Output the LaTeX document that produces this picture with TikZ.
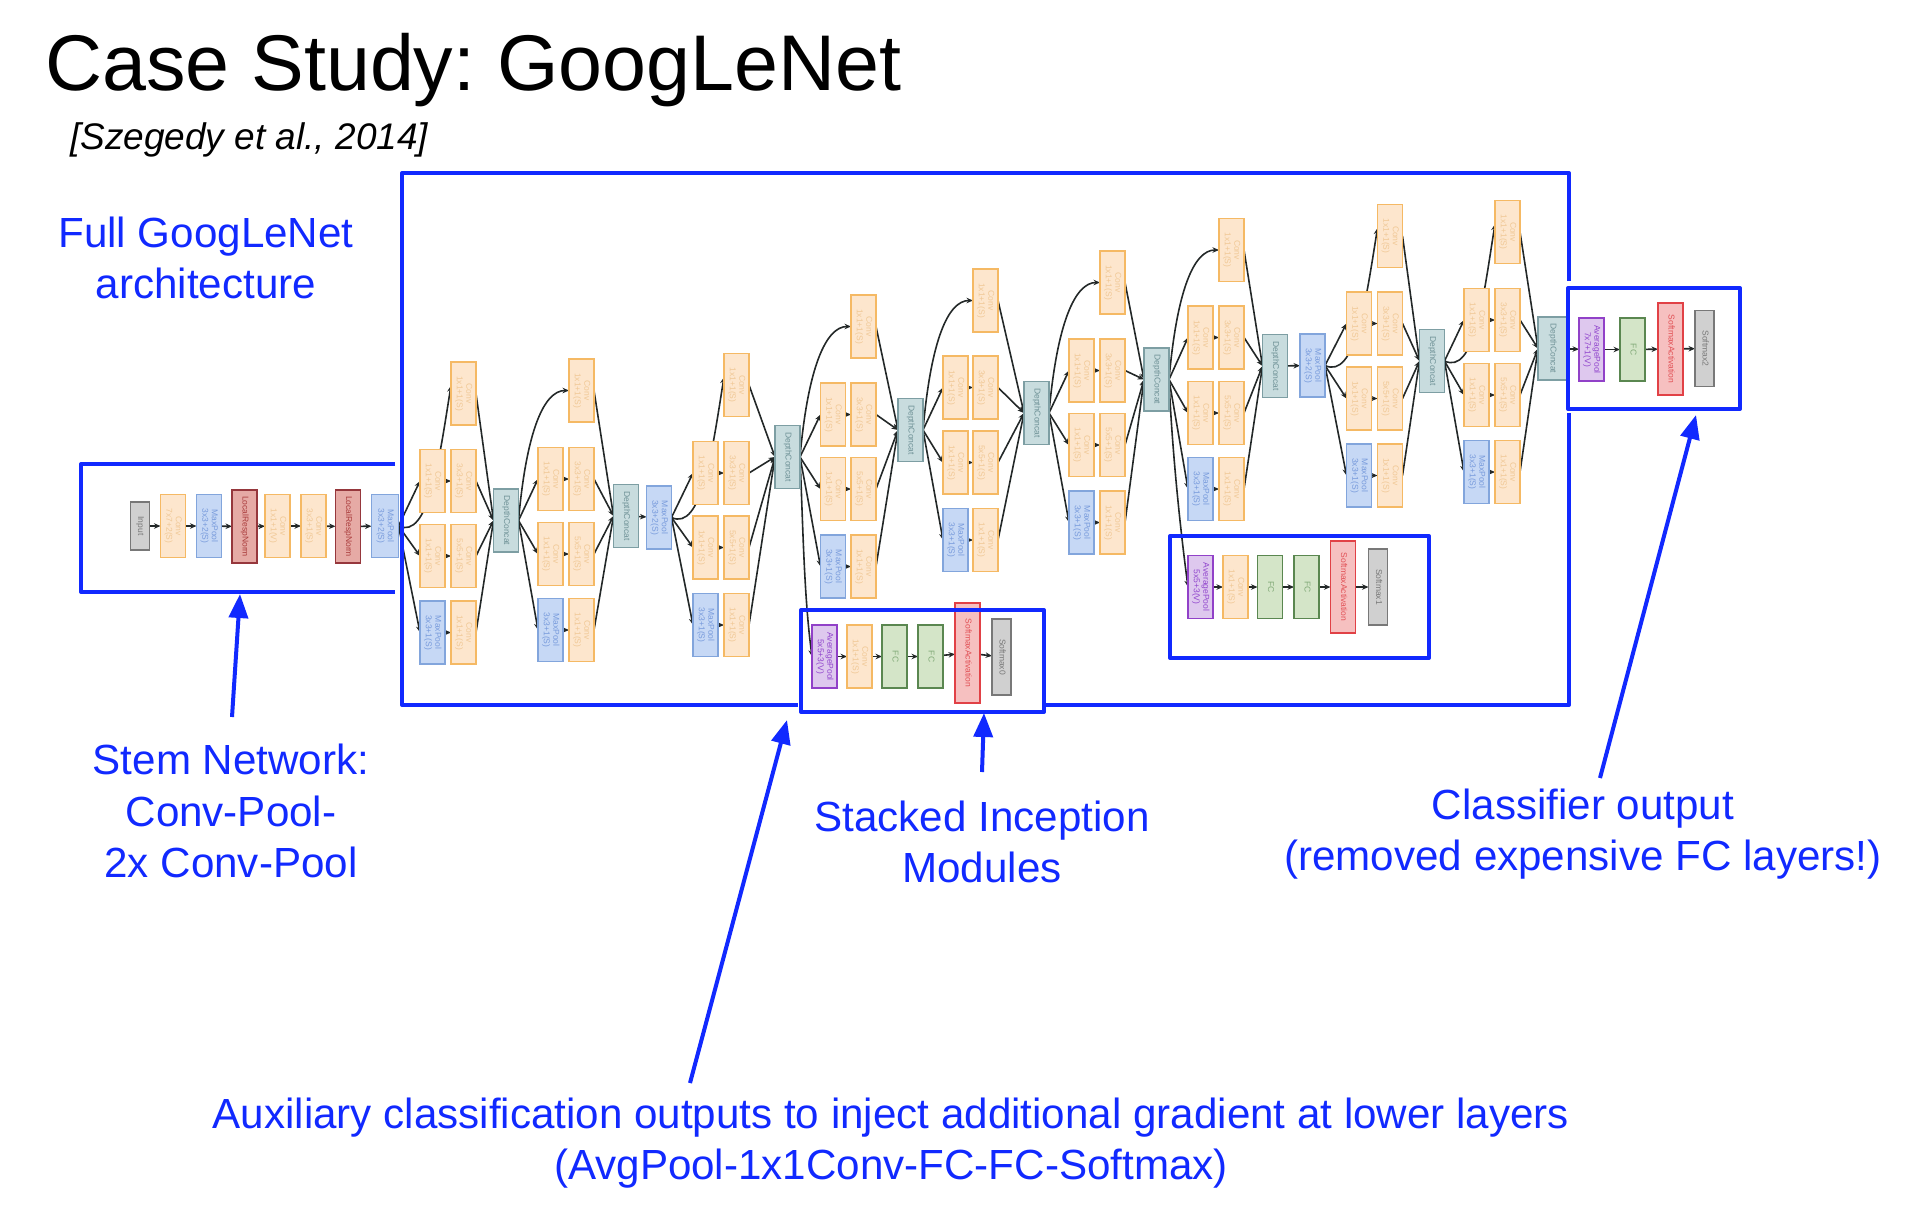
\documentclass[tikz,border=0pt]{standalone}
\usepackage{fontspec}
\usepackage{graphicx}
\setmainfont{Liberation Sans}
\usetikzlibrary{arrows.meta,backgrounds}
\definecolor{hl}{RGB}{17,41,255}
\definecolor{inkline}{RGB}{35,40,40}
\frenchspacing
\newcommand{\vlab}[1]{\rotatebox[origin=c]{-90}{\begin{tabular}{@{}c@{}}#1\end{tabular}}}
\newcommand{\cvA}{\vlab{Conv\\1x1+1(S)}}
\newcommand{\cvB}{\vlab{Conv\\3x3+1(S)}}
\newcommand{\cvC}{\vlab{Conv\\5x5+1(S)}}
\newcommand{\mpA}{\vlab{MaxPool\\3x3+1(S)}}
\tikzset{
  x=1pt,y=-1pt,
  layerbox/.style={draw,rectangle,line width=1.6pt,minimum width=25pt,minimum height=63pt,inner sep=0pt,outer sep=0pt,
     font=\fontsize{8.5}{9.5}\selectfont},
  convbox/.style={layerbox,draw={rgb,255:red,245;green,185;blue,100},text={rgb,255:red,240;green,200;blue,150},fill={rgb,255:red,253;green,230;blue,205}},
  poolbox/.style={layerbox,draw={rgb,255:red,130;green,165;blue,220},fill={rgb,255:red,198;green,216;blue,245},text={rgb,255:red,120;green,155;blue,220}},
  concatbox/.style={layerbox,draw={rgb,255:red,125;green,158;blue,163},fill={rgb,255:red,200;green,220;blue,222},text={rgb,255:red,110;green,145;blue,150}},
  lrnbox/.style={layerbox,minimum height=73pt,draw={rgb,255:red,150;green,55;blue,60},fill={rgb,255:red,230;green,170;blue,165},text={rgb,255:red,170;green,60;blue,60}},
  fcbox/.style={layerbox,draw={rgb,255:red,90;green,135;blue,80},fill={rgb,255:red,212;green,229;blue,200},text={rgb,255:red,130;green,170;blue,120}},
  avgbox/.style={layerbox,draw={rgb,255:red,145;green,65;blue,200},fill={rgb,255:red,222;green,200;blue,238},text={rgb,255:red,145;green,70;blue,205}},
  actbox/.style={layerbox,minimum height=92pt,draw={rgb,255:red,225;green,65;blue,70},fill={rgb,255:red,246;green,192;blue,192},text={rgb,255:red,225;green,80;blue,85}},
  softbox/.style={layerbox,minimum width=19pt,minimum height=76pt,draw={rgb,255:red,120;green,120;blue,120},fill={rgb,255:red,208;green,208;blue,208},text={rgb,255:red,120;green,120;blue,120}},
  inputbox/.style={softbox,minimum height=48pt},
  flow/.style={draw=inkline,line width=1.6pt,-{Stealth[length=6.5pt,width=5.5pt]}},
  bluebox/.style={draw=hl,line width=4pt,line join=round},
  callout/.style={draw=hl,line width=4pt,-{Triangle[length=24pt,width=19pt]}},
  bluetext/.style={text=hl,align=center,font=\fontsize{42.15}{51.5}\selectfont,inner sep=0pt},
}
\begin{document}
\begin{tikzpicture}
\useasboundingbox (0,0) rectangle (1922,1210);
% --- Stem
\node[inputbox] (in) at (140,526) {\vlab{Input}};
\node[convbox] (s1) at (173,526) {\vlab{Conv\\7x7+2(S)}};
\node[poolbox] (s2) at (209,526) {\vlab{MaxPool\\3x3+2(S)}};
\node[lrnbox] (s3) at (244.5,526.5) {\vlab{LocalRespNorm}};
\node[convbox] (s4) at (277.5,526) {\vlab{Conv\\1x1+1(V)}};
\node[convbox] (s5) at (313.5,526) {\vlab{Conv\\3x3+1(S)}};
\node[lrnbox] (s6) at (348,526.5) {\vlab{LocalRespNorm}};
\node[poolbox,minimum width=27pt] (mpb) at (385,526) {\vlab{MaxPool\\3x3+2(S)}};
% --- concat and pool nodes
\node[concatbox] (dca) at (506,520.5) {\vlab{DepthConcat}};
\node[concatbox] (dcb) at (626,516) {\vlab{DepthConcat}};
\node[poolbox] (mpc) at (659,517.5) {\vlab{MaxPool\\3x3+2(S)}};
\node[concatbox] (dcc) at (787.5,457) {\vlab{DepthConcat}};
\node[concatbox] (dcd) at (910.5,430) {\vlab{DepthConcat}};
\node[concatbox] (dce) at (1036.5,413) {\vlab{DepthConcat}};
\node[concatbox] (dcf) at (1156.5,379.5) {\vlab{DepthConcat}};
\node[concatbox] (dcg) at (1275,366) {\vlab{DepthConcat}};
\node[poolbox] (mpd) at (1312.5,365.5) {\vlab{MaxPool\\3x3+2(S)}};
\node[concatbox] (dch) at (1432,361) {\vlab{DepthConcat}};
\node[concatbox,minimum width=29pt] (dci) at (1552.5,348.5) {\vlab{DepthConcat}};
% --- Inception modules
\foreach \n/\xa/\xb/\yt/\ya/\yb/\yc/\prv/\nxt in {
  ia/432.5/463.5/393.5/481/556/632.5/mpb/dca,
  ib/550.5/581.5/390.5/479/554/630/dca/dcb,
  ic/705.5/736.5/385/473/547.5/625/mpc/dcc,
  id/833/863.5/326.5/414.5/489/566.5/dcc/dcd,
  ie/955.5/985.5/300.5/387.5/462.5/540/dcd/dce,
  if/1081.5/1112.5/282.5/370.5/445/522.5/dce/dcf,
  ig/1200.5/1231.5/250/337.5/413/489/dcf/dcg,
  ih/1359/1390/236/323.5/398.5/475.5/mpd/dch,
  ii/1476.5/1507.5/232/320/395/472/dch/dci}{
  \node[convbox] (\n t) at (\xb,\yt) {\cvA};
  \node[convbox] (\n a) at (\xa,\ya) {\cvA};
  \node[convbox] (\n b) at (\xb,\ya) {\cvB};
  \node[convbox] (\n c) at (\xa,\yb) {\cvA};
  \node[convbox] (\n d) at (\xb,\yb) {\cvC};
  \node[poolbox] (\n e) at (\xa,\yc) {\mpA};
  \node[convbox] (\n f) at (\xb,\yc) {\cvA};
  \begin{scope}[on background layer]
    \draw[flow] (\prv.east) -- (\n a.west);
    \draw[flow] (\prv.east) -- (\n c.west);
    \draw[flow] (\prv.east) -- (\n e.west);
    \draw[flow] (\n a) -- (\n b);
    \draw[flow] (\n c) -- (\n d);
    \draw[flow] (\n e) -- (\n f);
    \draw[flow] (\n t.east) -- (\nxt.west);
    \draw[flow] (\n b.east) -- (\nxt.west);
    \draw[flow] (\n d.east) -- (\nxt.west);
    \draw[flow] (\n f.east) -- (\nxt.west);
  \end{scope}
}
% --- curves to the top convolution
\begin{scope}[on background layer]
  \foreach \n/\prv in {ia/mpb,ic/mpc,ih/mpd,ii/dch}
    \draw[flow] (\prv.east) .. controls +(30,14) and +(-12,75) .. ([yshift=8pt]\n t.west);
  \foreach \n/\prv in {ib/dca,id/dcc,ie/dcd,if/dce,ig/dcf}
    \draw[flow] (\prv.east) .. controls +(8,-90) and +(-25,0) .. (\n t.west);
  \foreach \a/\b in {in/s1,s1/s2,s2/s3,s3/s4,s4/s5,s5/s6,s6/mpb,dcb/mpc,dcg/mpd}
    \draw[flow] (\a) -- (\b);
\end{scope}
% --- Auxiliary 1
\node[avgbox] (pa) at (824.5,656.5) {\vlab{AveragePool\\5x5+3(V)}};
\node[convbox] (pb) at (859.5,656.5) {\cvA};
\node[fcbox] (pc) at (894.5,656.5) {\vlab{FC}};
\node[fcbox] (pd) at (930.5,656.5) {\vlab{FC}};
\node[actbox,minimum height=100pt] (pe) at (967.5,653) {\vlab{SoftmaxActivation}};
\node[softbox] (pf) at (1001.5,657) {\vlab{Softmax0}};
% --- Auxiliary 2
\node[avgbox] (qa) at (1200.5,587) {\vlab{AveragePool\\5x5+3(V)}};
\node[convbox] (qb) at (1235.5,587) {\cvA};
\node[fcbox] (qc) at (1270,587) {\vlab{FC}};
\node[fcbox] (qd) at (1306.5,587) {\vlab{FC}};
\node[actbox] (qe) at (1343,587) {\vlab{SoftmaxActivation}};
\node[softbox] (qf) at (1378,587) {\vlab{Softmax1}};
% --- Output
\node[avgbox] (ra) at (1591.5,349.5) {\vlab{AveragePool\\7x7+1(V)}};
\node[fcbox] (rb) at (1632.5,349.5) {\vlab{FC}};
\node[actbox] (rc) at (1670.5,349) {\vlab{SoftmaxActivation}};
\node[softbox] (rd) at (1704.5,348.5) {\vlab{Softmax2}};
\begin{scope}[on background layer]
  \foreach \a/\b in {pa/pb,pb/pc,pc/pd,pd/pe,pe/pf,qa/qb,qb/qc,qc/qd,qd/qe,qe/qf,dci/ra,ra/rb,rb/rc,rc/rd}
    \draw[flow] (\a) -- (\b);
  \draw[flow] (dcc.east) .. controls +(3,70) and +(-8,-60) .. (pa.west);
  \draw[flow] (dcf.east) .. controls +(3,70) and +(-8,-60) .. (qa.west);
\end{scope}
% --- blue frames
\coordinate (stemTL) at (395,464);
\coordinate (stemLT) at (81,464);
\coordinate (stemLB) at (81,592);
\coordinate (stemBR) at (395,592);
\draw[bluebox] (stemTL) -- (stemLT) -- (stemLB) -- (stemBR);
\coordinate (bigA) at (1569,281);
\coordinate (bigB) at (1569,173);
\coordinate (bigC) at (402,173);
\coordinate (bigD) at (402,705);
\coordinate (bigE) at (798,705);
\coordinate (bigF) at (1046,705);
\coordinate (bigG) at (1569,705);
\coordinate (bigH) at (1569,413);
\draw[bluebox] (bigA) -- (bigB) -- (bigC) -- (bigD) -- (bigE);
\draw[bluebox] (bigF) -- (bigG) -- (bigH);
\node[bluebox,rectangle,inner sep=0pt,minimum width=243pt,minimum height=102pt] (boxaux) at (922.5,661) {};
\node[bluebox,rectangle,inner sep=0pt,minimum width=259pt,minimum height=122pt] (boxauxb) at (1299.5,597) {};
\node[bluebox,rectangle,inner sep=0pt,minimum width=172pt,minimum height=121pt] (boxout) at (1654,348.5) {};
% --- text
\node[anchor=base west,inner sep=0pt,font=\fontsize{79}{79}\selectfont] (title) at (45,90) {Case Study: GoogLeNet};
\node[anchor=base west,inner sep=0pt,font=\fontsize{37}{37}\selectfont\itshape] (cite) at (70,149) {[Szegedy et al., 2014]};
\node[bluetext] (lfull) at (206,258) {Full GoogLeNet\\architecture};
\node[bluetext] (lstem) at (231,811) {Stem Network:\\Conv-Pool-\\2x Conv-Pool};
\node[bluetext] (lstack) at (982,842) {Stacked Inception\\Modules};
\node[bluetext] (lclass) at (1583,834) {Classifier output\\(removed expensive FC layers!)};
\node[bluetext] (laux) at (891,1143) {Auxiliary classification outputs to inject additional gradient at lower layers\\(AvgPool-1x1Conv-FC-FC-Softmax)};
% --- callouts
\coordinate (tipstem) at (240,594);
\coordinate (tipaux) at (787,720);
\coordinate (tipstack) at (984,713);
\coordinate (tipclass) at (1696,415);
\coordinate (tailstem) at (232,717);
\coordinate (tailaux) at (690,1083);
\coordinate (tailstack) at (982,772);
\coordinate (tailclass) at (1600,778);
\draw[callout] (tailstem) -- (tipstem);
\draw[callout] (tailaux) -- (tipaux);
\draw[callout] (tailstack) -- (tipstack);
\draw[callout] (tailclass) -- (tipclass);
\end{tikzpicture}
\end{document}
